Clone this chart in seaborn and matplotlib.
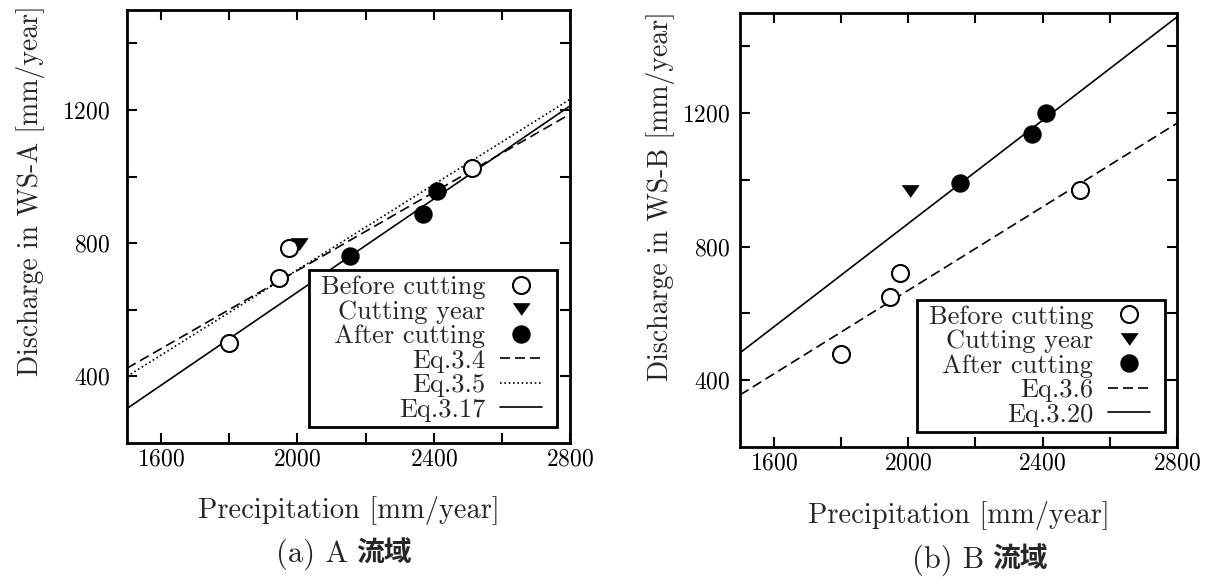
import matplotlib
matplotlib.use("Agg")
import matplotlib.pyplot as plt
import seaborn as sns
import numpy as np
import pandas as pd
from matplotlib.ticker import FixedLocator, NullFormatter
from matplotlib.offsetbox import DrawingArea

# ---- data -----------------------------------------------------------------
precip_before = [1800, 1945, 1975, 2512]
precip_cut = [2005]
precip_after = [2155, 2368, 2410]

ws_a_before = [500, 696, 786, 1026]
ws_a_cut = [798]
ws_a_after = [762, 888, 957]

ws_b_before = [478, 649, 721, 970]
ws_b_cut = [966]
ws_b_after = [991, 1138, 1200]

# regression lines: label, slope, intercept
eq_labels_a = ["Eq.3.4", "Eq.3.5", "Eq.3.17"]
eq_slopes_a = [0.587, 0.640, 0.699]
eq_intercepts_a = [-456, -560, -745]

eq_labels_b = ["Eq.3.6", "Eq.3.20"]
eq_slopes_b = [0.626, 0.774]
eq_intercepts_b = [-583, -679]

x_major = [1600, 2000, 2400, 2800]
x_minor = [1800, 2200, 2600]
y_major = [400, 800, 1200]
y_minor = [600, 1000, 1400]

# ---- style ----------------------------------------------------------------
sns.set_style("white")
plt.rcParams["font.family"] = ["cmr10", "Noto Sans CJK JP", "DejaVu Sans"]
plt.rcParams["axes.formatter.use_mathtext"] = True
plt.rcParams["mathtext.fontset"] = "cm"
FS_TICK = 17
FS_LABEL = 20.5
FS_LEG = 19

line_styles = {
    "Eq.3.4": (0, (6, 3)),
    "Eq.3.6": (0, (6, 3)),
    "Eq.3.5": (0, (1, 1.6)),
    "Eq.3.17": "-",
    "Eq.3.20": "-",
}

tri = [(-1, 0.7), (1, 0.7), (0, -0.7)]

fig = plt.figure(figsize=(12.07, 5.77), dpi=100)
ax_a = fig.add_axes([0.1052, 0.2322, 0.3671, 0.7504])
ax_b = fig.add_axes([0.6131, 0.2253, 0.3621, 0.7522])


def draw_panel(ax, before, cut, after, labels, slopes, intercepts, ylabel,
               ytick_pad, legend_anchor, ylabel_xy):
    xs = np.array([1500, 2800])
    sns.scatterplot(x=precip_before, y=before, ax=ax, marker="o", s=150,
                    facecolor="white", edgecolor="black", linewidth=1.5,
                    label="Before cutting", zorder=4)
    sns.scatterplot(x=precip_cut, y=cut, ax=ax, marker=tri, s=150,
                    color="black", edgecolor="black", linewidth=0.5,
                    label="Cutting year", zorder=3)
    sns.scatterplot(x=precip_after, y=after, ax=ax, marker="o", s=150,
                    color="black", edgecolor="black", linewidth=1.0,
                    label="After cutting", zorder=4)
    for lab, m, c in zip(labels, slopes, intercepts):
        sns.lineplot(x=xs, y=m * xs + c, ax=ax, color="black", linewidth=1.2,
                     linestyle=line_styles[lab], label=lab, zorder=2)

    ax.set_xlim(1500, 2800)
    ax.set_ylim(200, 1500)
    ax.xaxis.set_major_locator(FixedLocator(x_major))
    ax.xaxis.set_minor_locator(FixedLocator(x_minor))
    ax.yaxis.set_major_locator(FixedLocator(y_major))
    ax.yaxis.set_minor_locator(FixedLocator(y_minor))
    ax.xaxis.set_minor_formatter(NullFormatter())
    ax.yaxis.set_minor_formatter(NullFormatter())
    ax.tick_params(which="both", direction="in", length=7, width=1.5,
                   top=True, right=True, bottom=True, left=True,
                   labelsize=FS_TICK, colors="black")
    ax.tick_params(axis="x", which="both", pad=4)
    ax.tick_params(axis="y", which="both", pad=ytick_pad)
    for sp in ax.spines.values():
        sp.set_linewidth(2.0)
        sp.set_color("black")

    ax.set_xlabel("Precipitation [mm/year]", fontsize=FS_LABEL, va="center")
    ax.xaxis.set_label_coords(0.5, -0.157)
    ax.set_ylabel(ylabel, fontsize=20, va="center")
    ax.yaxis.set_label_coords(*ylabel_xy)

    handles, labs = ax.get_legend_handles_labels()
    leg = ax.legend(handles, labs, loc="lower right",
                    bbox_to_anchor=legend_anchor,
                    bbox_transform=fig.transFigure, borderaxespad=0,
                    markerfirst=False, fancybox=False, framealpha=1,
                    edgecolor="black", fontsize=FS_LEG, handlelength=1.6,
                    handletextpad=0.55, labelspacing=0.03, borderpad=0.2,
                    columnspacing=0.0,
                    scatterpoints=1, scatteryoffsets=[0.5])
    # extra side margins inside the frame (wider than the vertical padding)
    cols = leg._legend_handle_box.get_children()
    cols.insert(0, DrawingArea(5, 1))
    cols.append(DrawingArea(7, 1))
    leg.get_frame().set_linewidth(2.0)
    leg.set_zorder(10)


draw_panel(ax_a, ws_a_before, ws_a_cut, ws_a_after, eq_labels_a,
           eq_slopes_a, eq_intercepts_a, "Discharge in WS-A [mm/year]",
           12, (557 / 1207, 1 - 427 / 577), (-0.2167, 0.582))
draw_panel(ax_b, ws_b_before, ws_b_cut, ws_b_after, eq_labels_b,
           eq_slopes_b, eq_intercepts_b, "Discharge in WS-B [mm/year]",
           7, (1165 / 1207, 1 - 432 / 577), (-0.183, 0.578))

# panel captions: Latin part in the serif face, the kanji in bold gothic
fig.canvas.draw()
renderer = fig.canvas.get_renderer()
for x0, y0, head in [(276, 554, "(a) A"), (912, 560, "(b) B")]:
    t1 = fig.text(x0 / 1207, 1 - y0 / 577, head, fontsize=22,
                  ha="left", va="center", family="cmr10")
    bb = t1.get_window_extent(renderer)
    fig.text((bb.x1 + 8) / 1207, 1 - y0 / 577, "流域", fontsize=20,
             ha="left", va="center", family="Noto Sans CJK JP",
             fontweight="bold")

fig.savefig("out.png", dpi=100, facecolor="white")
